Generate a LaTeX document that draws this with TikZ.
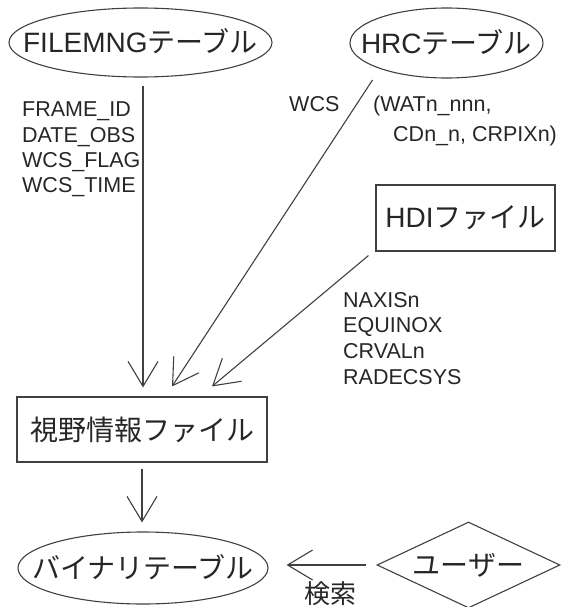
\documentclass[tikz,border=0pt]{standalone}
\usepackage{fontspec}
\setmainfont{Liberation Sans}
\newfontfamily\jp{Noto Sans CJK JP}
\usetikzlibrary{shapes.geometric,arrows.meta}
\newcommand{\flattext}[1]{\makebox[0pt]{\raisebox{-0.37em}[0pt][0pt]{#1}}}
\begin{document}
\begin{tikzpicture}[x=1pt,y=-1pt,
  line/.style={draw=black!75,line width=1.1pt},
  big/.style={font=\fontsize{28}{30}\selectfont, text=black!85},
  lab/.style={font=\fontsize{21.5}{25}\selectfont, text=black!85, inner sep=0pt, anchor=base west},
  oval/.style={line, ellipse, inner sep=0pt, big},
  rect/.style={line, rectangle, inner sep=0pt, big},
  dia/.style={line, diamond, inner sep=0pt, big},
  arr/.style={draw=black!75, line width=1.1pt, -{Straight Barb[length=25pt,width=30pt]}}]
\useasboundingbox (0,0) rectangle (565,607);

\node[oval, minimum width=263, minimum height=69] (filemng) at (140.5,42.5) {\flattext{FILEMNG{\jp テーブル}}};
\node[oval, minimum width=193, minimum height=70] (hrc) at (446.5,43) {\flattext{HRC{\jp テーブル}}};
\node[rect, minimum width=179, minimum height=66] (hdi) at (465.5,218) {HDI{\jp ファイル}};
\node[rect, minimum width=250, minimum height=65] (shiya) at (142,429.5) {{\jp 視野情報ファイル}};
\node[oval, minimum width=250, minimum height=72] (binary) at (143,568) {\flattext{\jp バイナリテーブル}};
\node[dia, minimum width=183, minimum height=86] (user) at (468.5,565) {\flattext{\jp ユーザー}};

\node[lab] (f1) at (22,117) {FRAME\_ID};
\node[lab] (f2) at (22,142) {DATE\_OBS};
\node[lab] (f3) at (22,167) {WCS\_FLAG};
\node[lab] (f4) at (22,192) {WCS\_TIME};

\node[lab] (w0) at (289,112) {WCS};
\node[lab] (w1) at (373,112) {(WATn\_nnn,};
\node[lab] (w2) at (393,141) {CDn\_n, CRPIXn)};

\node[lab] (h1) at (343,307) {NAXISn};
\node[lab] (h2) at (343,332) {EQUINOX};
\node[lab] (h3) at (343,358) {CRVALn};
\node[lab] (h4) at (343,384) {RADECSYS};

\node[font=\fontsize{26}{28}\selectfont\jp, text=black!85, inner sep=0pt] (search) at (330,594) {検索};

\draw[arr, shorten <=8pt, shorten >=9pt] ([xshift=1pt]shiya.north |- filemng.south) -- ([xshift=1pt]shiya.north);
\draw[arr] ([shift={(-74,37)}]hrc.center) -- ([shift={(30,-10)}]shiya.north);
\draw[arr] ([shift={(-7,4)}]hdi.south west) -- ([shift={(70,-10)}]shiya.north);
\draw[arr, shorten <=6pt, shorten >=9pt] (shiya.south) -- (shiya.south |- binary.north);
\draw[arr, shorten <=10pt, shorten >=18pt] (user.west) -- (user.west -| binary.east);
\end{tikzpicture}
\end{document}
